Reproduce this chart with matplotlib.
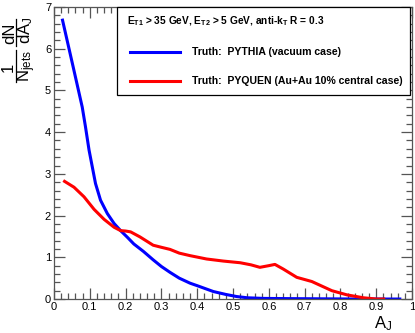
import matplotlib
matplotlib.use("Agg")
import matplotlib.pyplot as plt
from matplotlib.lines import Line2D
from matplotlib.patches import Rectangle
from matplotlib.ticker import MultipleLocator

plt.rcParams['font.family'] = ['Liberation Sans', 'DejaVu Sans']
plt.rcParams['mathtext.fontset'] = 'custom'
plt.rcParams['mathtext.rm'] = 'Liberation Sans'
plt.rcParams['mathtext.it'] = 'Liberation Sans'
plt.rcParams['mathtext.bf'] = 'Liberation Sans:bold'

# PYTHIA (vacuum) truth A_J distribution
aj_pythia = [0.023, 0.054, 0.079, 0.088, 0.098, 0.107, 0.116, 0.13, 0.149, 0.168,
             0.186, 0.205, 0.223, 0.25, 0.277, 0.30, 0.324, 0.35, 0.38, 0.40,
             0.445, 0.48, 0.51, 0.54, 0.585, 0.65, 0.75, 0.85, 0.97]
dn_pythia = [6.72, 5.55, 4.60, 4.13, 3.57, 3.17, 2.77, 2.37, 2.05, 1.81,
             1.64, 1.48, 1.32, 1.14, 0.94, 0.78, 0.64, 0.50, 0.38, 0.32,
             0.18, 0.11, 0.06, 0.03, 0.015, 0.01, 0.005, 0.0, 0.0]

# PYQUEN (Au+Au 10% central) truth A_J distribution
aj_pyquen = [0.026, 0.056, 0.084, 0.112, 0.14, 0.168, 0.186, 0.20, 0.214, 0.24,
             0.277, 0.30, 0.324, 0.35, 0.38, 0.426, 0.473, 0.52, 0.55, 0.575,
             0.60, 0.617, 0.64, 0.678, 0.72, 0.776, 0.818, 0.864, 0.90, 0.925]
dn_pyquen = [2.84, 2.68, 2.45, 2.15, 1.91, 1.72, 1.64, 1.63, 1.61, 1.49,
             1.29, 1.24, 1.19, 1.10, 1.04, 0.96, 0.91, 0.87, 0.82, 0.76,
             0.80, 0.83, 0.72, 0.52, 0.42, 0.20, 0.10, 0.03, 0.0, 0.0]

header = r'$\mathbf{E_{T1}}$ > 35 GeV, $\mathbf{E_{T2}}$ > 5 GeV, anti-$\mathbf{k_{T}}$ R = 0.3'
labels = ['Truth:  PYTHIA (vacuum case)', 'Truth:  PYQUEN (Au+Au 10% central case)']
colors = ['#0000ff', '#ff0000']

W, H = 415, 333
fig = plt.figure(figsize=(W / 100, H / 100), dpi=100)
ax = fig.add_axes([0.130, 0.102, 0.863, 0.877])

ax.plot(aj_pythia, dn_pythia, color=colors[0], lw=2.2, solid_capstyle='butt')
ax.plot(aj_pyquen, dn_pyquen, color=colors[1], lw=2.2, solid_capstyle='butt')

ax.set_xlim(0, 1)
ax.set_ylim(0, 7)
ax.xaxis.set_major_locator(MultipleLocator(0.1))
ax.xaxis.set_minor_locator(MultipleLocator(0.02))
ax.yaxis.set_major_locator(MultipleLocator(1))
ax.yaxis.set_minor_locator(MultipleLocator(0.2))
ax.xaxis.set_major_formatter(plt.FuncFormatter(lambda v, p: f'{v:g}'))

axcol = '#555555'
for s in ax.spines.values():
    s.set_color(axcol)
    s.set_linewidth(0.9)
ax.tick_params(which='both', direction='in', top=True, right=True, colors=axcol,
               labelcolor='black', labelsize=8, width=0.9)
ax.tick_params(which='major', length=8)
ax.tick_params(which='minor', length=4)
ax.tick_params(axis='x', pad=2)
ax.tick_params(axis='y', pad=2)


# y title built ROOT-style: two stacked fractions, rotated
def px(x, y):
    return x / W, 1 - y / H


def rot_text(x, y, s, size=12):
    fig.text(*px(x, y), s, rotation=90, rotation_mode='anchor',
             ha='center', va='baseline', fontsize=size)


rot_text(13, 67, '1')
rot_text(30, 66, r'N$_{\rm jets}$')
rot_text(14, 33, 'dN')
rot_text(30, 30, r'dA$_{\rm J}$')
for y0, y1 in [(50, 82), (19, 46)]:
    x0, ya = px(16, y0)
    _, yb = px(16, y1)
    fig.add_artist(Line2D([x0, x0], [ya, yb], color='black', lw=0.9,
                          transform=fig.transFigure))

fig.text(0.9, 0.0, r'A$_{\rm J}$', fontsize=12, ha='left', va='bottom')

# legend box
ax.add_patch(Rectangle((0.179, 0.695), 0.818, 0.301, transform=ax.transAxes,
                       facecolor='#aaaaaa', edgecolor='none', zorder=4, clip_on=False))
ax.add_patch(Rectangle((0.176, 0.699), 0.818, 0.301, transform=ax.transAxes,
                       facecolor='white', edgecolor='black', lw=0.9, zorder=5, clip_on=False))
ax.text(0.203, 0.952, header, transform=ax.transAxes, fontsize=7.3, fontweight='bold',
        ha='left', va='center', zorder=6)
for i, (lab, c) in enumerate(zip(labels, colors)):
    yy = 0.845 - i * 0.097
    ax.plot([0.212, 0.352], [yy, yy], transform=ax.transAxes, color=c, lw=2.2,
            zorder=6, clip_on=False)
    ax.text(0.385, yy, lab, transform=ax.transAxes, fontsize=7.6, fontweight='bold',
            ha='left', va='center', zorder=6)

fig.savefig('out.png', dpi=100)
